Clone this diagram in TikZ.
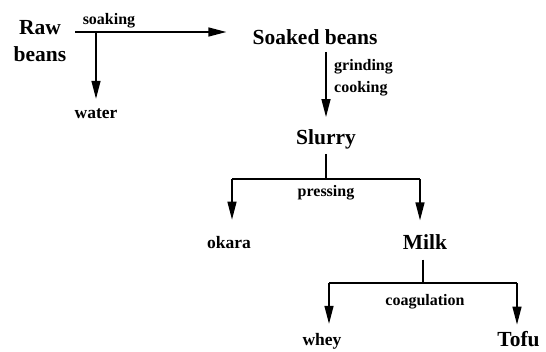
\documentclass[tikz,border=0pt]{standalone}
\usepackage{fontspec}
\setmainfont{Liberation Serif}
\usetikzlibrary{arrows.meta}
\begin{document}
\begin{tikzpicture}[x=1pt,y=-1pt,
  big/.style={font=\fontsize{21.5}{27}\selectfont\bfseries, inner sep=0pt},
  prod/.style={font=\fontsize{17.5}{20}\selectfont\bfseries, inner sep=0pt},
  proc/.style={font=\fontsize{16}{22}\selectfont\bfseries, inner sep=0pt},
  line/.style={line width=1.4pt},
  arr/.style={line width=1.4pt, -{Triangle[length=18pt,width=9pt]}}]
\useasboundingbox (0,0) rectangle (546,351);
% nodes
\node[big, align=center] (raw) at (40,41) {Raw\\beans};
\node[proc] (soaking) at (109,21) {soaking};
\node[prod] (water) at (96,114) {water};
\node[big] (soaked) at (315,37) {Soaked beans};
\node[proc, align=left, anchor=west] (grind) at (334,78) {grinding\\cooking};
\node[big] (slurry) at (326,139) {Slurry};
\node[proc] (pressing) at (326,193) {pressing};
\node[prod] (okara) at (229,243) {okara};
\node[big] (milk) at (425,242) {Milk};
\node[proc] (coag) at (425,302) {coagulation};
\node[prod] (whey) at (322,341) {whey};
\node[big] (tofu) at (518.5,339.5) {Tofu};
% junction coordinates
\coordinate (s0) at (75,32);
\coordinate (s1) at (96,32);
\coordinate (j1) at (326,179);
\coordinate (j1l) at (232,179);
\coordinate (j1r) at (420,179);
\coordinate (j2) at (423,283);
\coordinate (j2l) at (329,283);
\coordinate (j2r) at (517,283);
% connectors
\draw[arr, shorten >=26pt] (s0) -- (s0 -| soaked.west);
\draw[arr, shorten >=10pt] (s1) -- (s1 |- water.north);
\draw[arr, shorten <=7pt, shorten >=12pt] (slurry.north |- soaked.south) -- (slurry.north);
\draw[line, shorten <=5pt] (j1 |- slurry.south) -- (j1);
\draw[line] (j1l) -- (j1r);
\draw[arr, shorten >=17pt] (j1l) -- (j1l |- okara.north);
\draw[arr, shorten >=14pt] (j1r) -- (j1r |- milk.north);
\draw[line, shorten <=10pt] (j2 |- milk.south) -- (j2);
\draw[line] (j2l) -- (j2r);
\draw[arr, shorten >=9pt] (j2l) -- (j2l |- whey.north);
\draw[arr, shorten >=7pt] (j2r) -- (j2r |- tofu.north);
\end{tikzpicture}
\end{document}
